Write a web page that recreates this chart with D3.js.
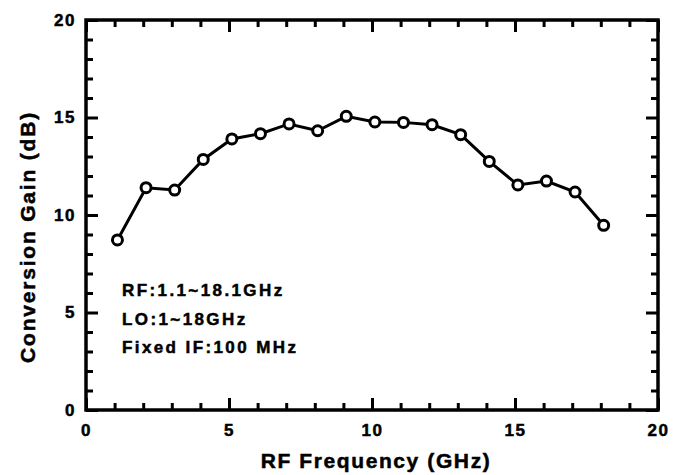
<!DOCTYPE html>
<html>
<head>
<meta charset="utf-8">
<script src="https://cdn.jsdelivr.net/npm/d3@7"></script>
<style>
  body { margin: 0; background: #fff; }
  svg text { font-family: "Liberation Sans", Arial, sans-serif; font-weight: bold; fill: #000; stroke: #000; stroke-width: 0.5px; }
  .tk line { stroke: #000; stroke-width: 3px; }
</style>
</head>
<body>
<div id="chart"></div>
<script>
// data
const freq = [1.1, 2.1, 3.1, 4.1, 5.1, 6.1, 7.1, 8.1, 9.1, 10.1, 11.1, 12.1, 13.1, 14.1, 15.1, 16.1, 17.1, 18.1];
const gain = [8.72, 11.40, 11.28, 12.85, 13.90, 14.17, 14.67, 14.32, 15.06, 14.77, 14.75, 14.63, 14.12, 12.75, 11.54, 11.74, 11.18, 9.47];
const xTicks = [0, 5, 10, 15, 20];
const yTicks = [0, 5, 10, 15, 20];
const notes = ["RF:1.1~18.1GHz", "LO:1~18GHz", "Fixed IF:100 MHz"];

const W = 684, H = 475;
const m = {left: 86, right: 26, top: 20, bottom: 65};
const iw = W - m.left - m.right, ih = H - m.top - m.bottom;

const svg = d3.select('#chart').append('svg')
  .attr('width', W).attr('height', H);

const x = d3.scaleLinear().domain([0, 20]).range([m.left, m.left + iw]);
const y = d3.scaleLinear().domain([0, 20]).range([m.top + ih, m.top]);

// minor ticks every 1 unit, majors every 5, on all four sides pointing inward
const minor = d3.range(0, 21, 1).filter(v => v % 5 !== 0);

function tickSide(axisFn, scale, tr, vals, len) {
  const g = svg.append('g').attr('class', 'tk')
    .attr('transform', tr)
    .call(axisFn(scale).tickValues(vals).tickSizeInner(-len).tickSizeOuter(0).tickFormat(''));
  g.select('.domain').remove();
  g.selectAll('text').remove();
}
[[minor, 7], [xTicks, 12]].forEach(([vals, len]) => {
  tickSide(d3.axisBottom, x, `translate(0,${y(0)})`, vals, len);
  tickSide(d3.axisTop, x, `translate(0,${y(20)})`, vals, len);
  tickSide(d3.axisLeft, y, `translate(${x(0)},0)`, vals, len);
  tickSide(d3.axisRight, y, `translate(${x(20)},0)`, vals, len);
});

// frame
svg.append('rect')
  .attr('x', x(0)).attr('y', y(20))
  .attr('width', x(20) - x(0)).attr('height', y(0) - y(20))
  .style('fill', 'none').style('stroke', '#000').style('stroke-width', '3.5px');

// tick labels via d3 axes
const xAxis = svg.append('g')
  .attr('transform', `translate(0,${y(0)})`)
  .call(d3.axisBottom(x).tickValues(xTicks).tickSize(0).tickPadding(14));
const yAxis = svg.append('g')
  .attr('transform', `translate(${x(0) + 1},0)`)
  .call(d3.axisLeft(y).tickValues(yTicks).tickSize(0).tickPadding(11));
[xAxis, yAxis].forEach(a => {
  a.select('.domain').remove();
  a.attr('font-family', null).attr('font-size', null);
  a.selectAll('text').style('font-size', '17px').style('letter-spacing', '1.5px');
});

// axis titles
svg.append('text')
  .attr('x', 376).attr('y', 468)
  .attr('text-anchor', 'middle')
  .style('font-size', '21px').style('letter-spacing', '1.6px')
  .text('RF Frequency (GHz)');
svg.append('text')
  .attr('transform', `translate(35,237) rotate(-90)`)
  .attr('text-anchor', 'middle')
  .style('font-size', '21px').style('letter-spacing', '1.8px')
  .text('Conversion Gain (dB)');

// line + markers
const pts = freq.map((f, i) => [f, gain[i]]);
svg.append('path')
  .datum(pts)
  .style('fill', 'none').style('stroke', '#000').style('stroke-width', '3px')
  .attr('d', d3.line().x(d => x(d[0])).y(d => y(d[1])));
svg.append('g').selectAll('circle')
  .data(pts).join('circle')
  .attr('cx', d => x(d[0])).attr('cy', d => y(d[1]))
  .attr('r', 5)
  .style('fill', '#fff').style('stroke', '#000').style('stroke-width', '3px');

// annotation
svg.append('g').selectAll('text')
  .data(notes).join('text')
  .attr('x', 122).attr('y', (d, i) => 296 + i * 28.5)
  .style('font-size', '17px').style('letter-spacing', '2.4px')
  .text(d => d);
</script>
</body>
</html>
